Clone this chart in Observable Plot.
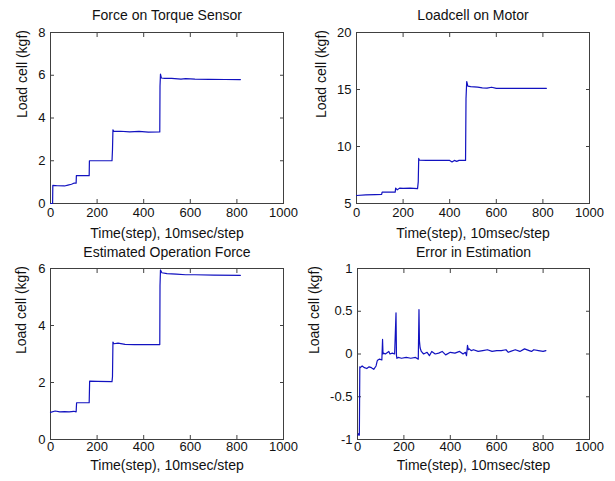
<!DOCTYPE html>
<html><head><meta charset="utf-8">
<script src="https://cdn.jsdelivr.net/npm/d3@7"></script>
<script src="https://cdn.jsdelivr.net/npm/@observablehq/plot@0.6"></script>
<style>
body{margin:0;background:#fff;}
#fig{position:relative;width:615px;height:481px;background:#fff;overflow:hidden;}
.panel{position:absolute;}
</style></head><body><div id="fig"></div>
<script>
// ---- tick values ----
const xTicks = [0, 200, 400, 600, 800, 1000];
const yTicksTorque = [0, 2, 4, 6, 8];
const yTicksMotor = [5, 10, 15, 20];
const yTicksEst = [0, 2, 4, 6];
const yTicksErr = [-1, -0.5, 0, 0.5, 1];

// ---- titles / labels ----
const titles = ["Force on Torque Sensor", "Loadcell on Motor", "Estimated Operation Force", "Error in Estimation"];
const xLabel = "Time(step), 10msec/step";
const yLabel = "Load cell (kgf)";

// ---- series: Force on Torque Sensor ----
const torqueT = [0, 9, 10, 30, 60, 75, 90, 100, 110, 111, 140, 166, 167, 210, 264, 266, 268, 272, 300, 340, 380, 420, 469, 470, 472, 476, 490, 520, 560, 580, 620, 680, 750, 815];
const torqueF = [0, 0, 0.85, 0.83, 0.82, 0.86, 0.9, 0.95, 0.95, 1.3, 1.3, 1.3, 2.0, 2.0, 2.0, 2.5, 3.45, 3.37, 3.38, 3.35, 3.37, 3.34, 3.35, 5.5, 6.05, 5.87, 5.85, 5.85, 5.82, 5.84, 5.82, 5.81, 5.8, 5.8];

// ---- series: Loadcell on Motor ----
const motorT = [0, 40, 80, 108, 110, 150, 166, 168, 175, 185, 200, 230, 262, 265, 267, 270, 300, 350, 400, 410, 420, 430, 440, 468, 470, 473, 478, 490, 520, 540, 560, 580, 600, 700, 815];
const motorF = [5.7, 5.75, 5.78, 5.8, 6.0, 6.0, 6.0, 6.35, 6.2, 6.35, 6.33, 6.35, 6.3, 6.9, 8.95, 8.8, 8.78, 8.78, 8.78, 8.65, 8.78, 8.7, 8.78, 8.78, 14.2, 15.7, 15.3, 15.25, 15.2, 15.15, 15.12, 15.2, 15.1, 15.1, 15.1];

// ---- series: Estimated Operation Force ----
const estT = [0, 20, 40, 60, 80, 100, 110, 112, 140, 166, 168, 200, 264, 266, 268, 272, 290, 320, 360, 420, 469, 470, 472, 478, 500, 540, 580, 620, 700, 815];
const estF = [0.95, 1.0, 0.97, 0.98, 0.97, 0.99, 0.97, 1.29, 1.29, 1.29, 2.05, 2.04, 2.03, 2.2, 3.42, 3.36, 3.38, 3.34, 3.33, 3.33, 3.33, 5.4, 5.95, 5.85, 5.82, 5.8, 5.78, 5.78, 5.77, 5.76];

// ---- series: Error in Estimation ----
const errT = [2, 5, 8, 10, 12, 20, 30, 40, 50, 60, 70, 80, 85, 88, 95, 105, 108, 110, 112, 120, 135, 140, 150, 160, 166, 168, 170, 175, 190, 210, 230, 250, 262, 265, 267, 270, 275, 285, 300, 310, 320, 335, 350, 365, 380, 400, 420, 440, 455, 465, 470, 474, 478, 482, 490, 500, 520, 540, 560, 580, 600, 620, 640, 650, 660, 680, 700, 720, 740, 750, 760, 780, 800, 812];
const errF = [-0.95, -0.93, -0.95, -0.15, -0.16, -0.14, -0.16, -0.17, -0.15, -0.16, -0.18, -0.14, -0.08, -0.07, -0.06, -0.07, 0.17, 0.0, 0.01, 0.0, 0.03, 0.0, 0.01, 0.0, 0.48, -0.02, -0.05, -0.04, -0.05, -0.04, -0.05, -0.04, -0.06, 0.52, 0.15, 0.07, 0.03, 0.0, 0.02, -0.02, 0.03, 0.0, 0.01, 0.03, -0.01, 0.02, 0.01, 0.03, 0.0, 0.02, -0.02, 0.1, 0.05, 0.06, 0.04, 0.05, 0.03, 0.04, 0.05, 0.03, 0.04, 0.04, 0.05, 0.02, 0.03, 0.05, 0.03, 0.06, 0.04, 0.03, 0.05, 0.04, 0.03, 0.04];

const FONT = '"Liberation Sans", Arial, Helvetica, sans-serif';
const LINE = "#1212c0";
const AXIS = "#404040";
const fmt = d => String(d);

const panels = [
  {title: titles[0], t: torqueT, f: torqueF, yDomain: [0, 8], yTicks: yTicksTorque,
   left: 0, top: 0, width: 305, height: 240, mt: 32, mb: 37, ml: 50, mr: 22, titleDy: -17, xLabDy: 30, yLabDx: -28, tp: 8},
  {title: titles[1], t: motorT, f: motorF, yDomain: [5, 20], yTicks: yTicksMotor,
   left: 305, top: 0, width: 310, height: 240, mt: 32, mb: 37, ml: 51, mr: 26, titleDy: -17, xLabDy: 30, yLabDx: -35, tp: 8},
  {title: titles[2], t: estT, f: estF, yDomain: [0, 6], yTicks: yTicksEst,
   left: 0, top: 240, width: 305, height: 241, mt: 28, mb: 42, ml: 50, mr: 22, titleDy: -16, xLabDy: 26, yLabDx: -29, tp: 6},
  {title: titles[3], t: errT, f: errF, yDomain: [-1, 1], yTicks: yTicksErr,
   left: 305, top: 240, width: 310, height: 241, mt: 28, mb: 42, ml: 52, mr: 26, titleDy: -16, xLabDy: 26, yLabDx: -43, tp: 6}
];

const fig = document.getElementById("fig");
for (const p of panels) {
  const data = p.t.map((t, i) => ({t, v: p.f[i]}));
  const svg = Plot.plot({
    width: p.width, height: p.height,
    marginTop: p.mt, marginBottom: p.mb, marginLeft: p.ml, marginRight: p.mr,
    style: {fontFamily: FONT, fontSize: "13px", color: "#111", background: "transparent", overflow: "visible"},
    x: {domain: [0, 1000]},
    y: {domain: p.yDomain},
    marks: [
      Plot.axisX(xTicks, {anchor: "bottom", tickSize: -4, tickPadding: p.tp, tickFormat: fmt, label: null, stroke: AXIS, fontSize: 13}),
      Plot.axisX(xTicks, {anchor: "top", tickSize: -4, tickFormat: () => "", label: null, stroke: AXIS}),
      Plot.axisY(p.yTicks, {anchor: "left", tickSize: -4, tickPadding: 9, tickFormat: fmt, label: null, stroke: AXIS, fontSize: 13}),
      Plot.axisY(p.yTicks, {anchor: "right", tickSize: -4, tickFormat: () => "", label: null, stroke: AXIS}),
      Plot.frame({stroke: AXIS, strokeWidth: 1}),
      Plot.line(data, {x: "t", y: "v", stroke: LINE, strokeWidth: 1.2, curve: "linear"}),
      Plot.text([p.title], {frameAnchor: "top", dy: p.titleDy, fontSize: 14, fill: "#111", lineAnchor: "middle"}),
      Plot.text([xLabel], {frameAnchor: "bottom", dy: p.xLabDy, fontSize: 14, fill: "#111", lineAnchor: "middle"}),
      Plot.text([yLabel], {frameAnchor: "left", dx: p.yLabDx, rotate: -90, fontSize: 14, fill: "#111", lineAnchor: "middle"})
    ]
  });
  const div = document.createElement("div");
  div.className = "panel";
  div.style.left = p.left + "px";
  div.style.top = p.top + "px";
  div.appendChild(svg);
  fig.appendChild(div);
}
</script>
</body></html>
